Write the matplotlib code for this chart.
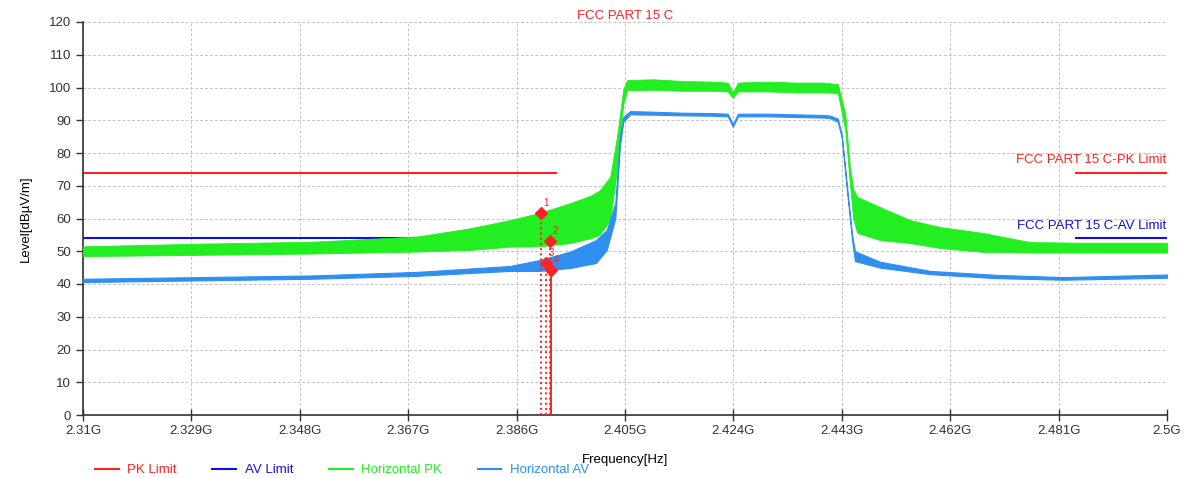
import numpy as np
import matplotlib.pyplot as plt
from matplotlib.lines import Line2D

plt.rcParams['font.family'] = ['Liberation Sans', 'DejaVu Sans']

# frequency axis (GHz)
x_ticks = [2.31, 2.329, 2.348, 2.367, 2.386, 2.405, 2.424, 2.443, 2.462, 2.481, 2.5]
x_tick_labels = ['2.31G', '2.329G', '2.348G', '2.367G', '2.386G', '2.405G',
                 '2.424G', '2.443G', '2.462G', '2.481G', '2.5G']
y_ticks = [0, 10, 20, 30, 40, 50, 60, 70, 80, 90, 100, 110, 120]

# limit segments: (start, stop) in GHz
pk_limit = 74.0
av_limit = 54.0
limit_spans = [(2.31, 2.3929), (2.4841, 2.5)]

# Horizontal PK trace envelope (dBuV/m)
pk_freq = [2.310, 2.330, 2.350, 2.3686, 2.3778, 2.3848, 2.390, 2.3954, 2.3990,
           2.4005, 2.4024, 2.4036, 2.4047, 2.4054, 2.410, 2.415, 2.420, 2.4230,
           2.4239, 2.4248, 2.430, 2.435, 2.440, 2.4423, 2.4436, 2.4444, 2.4450,
           2.4457, 2.4497, 2.455, 2.4602, 2.4677, 2.476, 2.485, 2.500]
pk_hi = [51.5, 52.3, 52.9, 54.5, 57.0, 59.5, 61.7, 64.7, 67.0,
         68.5, 72.7, 85.0, 99.5, 102.3, 102.5, 102.0, 101.8, 101.5,
         98.5, 101.5, 101.8, 101.5, 101.5, 101.0, 92.0, 76.0, 69.0,
         66.6, 63.5, 59.5, 57.4, 55.6, 52.8, 52.6, 52.6]
pk_lo = [48.5, 48.9, 49.3, 49.9, 50.4, 51.4, 51.5, 52.5, 54.0,
         55.0, 59.5, 75.0, 95.0, 99.2, 99.3, 99.0, 99.0, 98.8,
         96.8, 98.8, 98.8, 98.5, 98.5, 98.3, 87.0, 71.0, 60.0,
         55.6, 53.4, 52.5, 51.0, 49.8, 49.6, 49.6, 49.6]

# Horizontal AV trace envelope (dBuV/m)
av_freq = [2.310, 2.330, 2.350, 2.3686, 2.3848, 2.390, 2.3954, 2.3999, 2.4018,
           2.4033, 2.4041, 2.4047, 2.4059, 2.410, 2.415, 2.420, 2.4230, 2.4239,
           2.4248, 2.430, 2.435, 2.440, 2.4410, 2.4423, 2.4430, 2.4439, 2.4448,
           2.4453, 2.4497, 2.4585, 2.470, 2.4818, 2.500]
av_hi = [41.6, 42.1, 42.6, 43.7, 45.5, 47.3, 49.9, 53.4, 56.5,
         64.7, 85.0, 91.0, 92.8, 92.6, 92.3, 92.2, 92.0, 88.8,
         92.0, 92.0, 91.8, 91.6, 91.4, 90.5, 85.5, 70.0, 55.0,
         50.0, 46.8, 44.0, 42.8, 42.1, 42.9]
av_lo = [40.6, 41.1, 41.6, 42.5, 44.0, 44.0, 44.9, 46.4, 50.4,
         60.0, 82.0, 89.5, 91.8, 91.7, 91.5, 91.4, 91.2, 88.0,
         91.2, 91.2, 91.0, 90.8, 90.6, 89.5, 84.5, 68.5, 53.5,
         47.0, 45.0, 43.0, 41.8, 41.3, 41.9]

# band-edge markers
marker_ids = ['1', '2', '3', '4']
marker_freq = [2.3902, 2.3918, 2.3912, 2.3921]
marker_level = [61.8, 53.0, 46.5, 44.3]
marker_style = [':', ':', ':', '-']

RED = '#ff2222'
BLUE = '#1010e0'
GREEN = '#22ee22'
LBLUE = '#2f8ff0'

fig = plt.figure(figsize=(11.89, 4.78), dpi=100)
ax = fig.add_axes([83 / 1189, 63 / 478, 1084 / 1189, 393 / 478])

for f0, f1 in limit_spans:
    ax.plot([f0, f1], [pk_limit, pk_limit], color=RED, lw=1.5, zorder=2)
    ax.plot([f0, f1], [av_limit, av_limit], color=BLUE, lw=1.5, zorder=2)

ax.fill_between(pk_freq, pk_lo, pk_hi, color=GREEN, lw=0.6, zorder=3)
ax.fill_between(av_freq, av_lo, av_hi, color=LBLUE, lw=0.8, zorder=4)

for mid, f, v, ls in zip(marker_ids, marker_freq, marker_level, marker_style):
    ax.plot([f, f], [0, v], color=RED, lw=1.4, ls=ls, zorder=5)
    ax.plot(f, v, marker='D', ms=6, color=RED, zorder=6)
    ax.annotate(mid, (f, v), xytext=(2, 5), textcoords='offset points',
                color=RED, fontsize=7, zorder=7)

ax.text(2.4998, 78, 'FCC PART 15 C-PK Limit', color=RED, fontsize=9.5,
        ha='right', va='center')
ax.text(2.4998, 57.7, 'FCC PART 15 C-AV Limit', color=BLUE, fontsize=9.5,
        ha='right', va='center')

ax.set_xlim(2.31, 2.5)
ax.set_ylim(0, 120)
ax.set_xticks(x_ticks)
ax.set_xticklabels(x_tick_labels)
ax.set_yticks(y_ticks)
ax.tick_params(axis='both', labelsize=9.5, colors='#333333', length=5, width=1)
ax.tick_params(axis='x', direction='inout', length=8)
ax.grid(True, color='#c4c4c4', ls=(0, (3, 2)), lw=0.7)
ax.set_axisbelow(True)
for side in ('top', 'right'):
    ax.spines[side].set_visible(False)
for side in ('left', 'bottom'):
    ax.spines[side].set_color('#333333')
    ax.spines[side].set_linewidth(1.2)

ax.set_title('FCC PART 15 C', color=RED, fontsize=9.5, pad=1)
ax.set_ylabel('Level[dBµV/m]', fontsize=9.5, labelpad=12)
ax.set_xlabel('Frequency[Hz]', fontsize=9.5, labelpad=12)

handles = [Line2D([], [], color=RED, lw=1.5),
           Line2D([], [], color=BLUE, lw=1.5),
           Line2D([], [], color=GREEN, lw=1.5),
           Line2D([], [], color=LBLUE, lw=1.5)]
fig.legend(handles, ['PK Limit', 'AV Limit', 'Horizontal PK', 'Horizontal AV'],
           loc='center left', bbox_to_anchor=(95 / 1189, 1 - 470 / 478),
           ncol=4, frameon=False, fontsize=9.5, handlelength=1.8,
           handletextpad=0.65, columnspacing=2.7, borderpad=0,
           borderaxespad=0, labelcolor='linecolor')

fig.savefig('out.png', dpi=100)
